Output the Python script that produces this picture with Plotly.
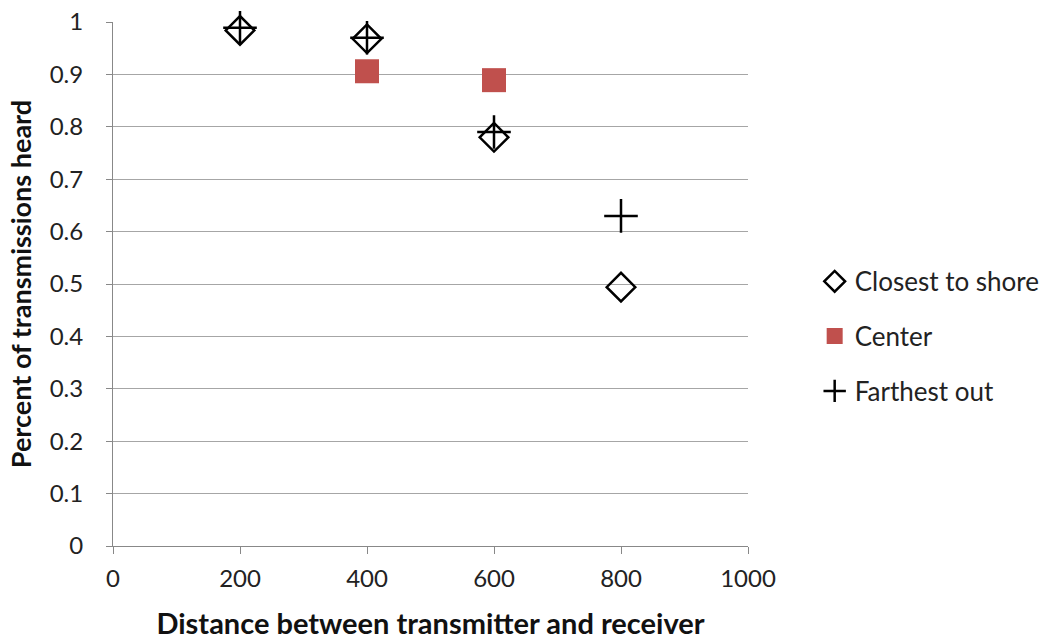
import plotly.graph_objects as go

distances = [200, 400, 600, 800]
closest_to_shore = [0.984, 0.968, 0.780, 0.494]
center_x = [400, 600]
center = [0.906, 0.889]
farthest_out = [0.989, 0.970, 0.790, 0.630]

FONT = "Lato, Liberation Sans, sans-serif"

fig = go.Figure()
fig.add_trace(go.Scatter(
    x=distances, y=closest_to_shore, mode="markers", name="Closest to shore", legendgroup="a",
    cliponaxis=False,
    marker=dict(symbol="diamond-open", size=22, color="black", line=dict(width=2.5, color="black")),
))
fig.add_trace(go.Scatter(
    x=center_x, y=center, mode="markers", name="Center", legendgroup="b",
    cliponaxis=False,
    marker=dict(symbol="square", size=24, color="#c0504d", line=dict(width=0)),
))
fig.add_trace(go.Scatter(
    x=distances, y=farthest_out, mode="markers", name="Farthest out", legendgroup="c",
    cliponaxis=False,
    marker=dict(symbol="cross-thin-open", size=24, color="black", line=dict(width=2.5, color="black")),
))

fig.update_layout(
    width=1044, height=640,
    margin=dict(l=113, r=296, t=22, b=94, autoexpand=False),
    plot_bgcolor="white", paper_bgcolor="white",
    font=dict(family=FONT, size=20, color="#222222"),
    legend=dict(x=1.105, y=0.40, xanchor="left", yanchor="middle",
                font=dict(size=26, color="#222222"), tracegroupgap=18,
                traceorder="grouped"),
    showlegend=True,
)
fig.update_xaxes(
    range=[0, 1000], tickvals=[0, 200, 400, 600, 800, 1000],
    showgrid=False, showline=True, linecolor="#888888", linewidth=1,
    ticks="outside", ticklen=7, tickcolor="#888888",
    tickfont=dict(size=24), ticklabelstandoff=4, automargin=False,
    title=dict(text="<b>Distance between transmitter and receiver</b>", font=dict(size=29, color="#111111"), standoff=24),
    zeroline=False,
)
fig.update_yaxes(
    range=[0, 1], tickvals=[i / 10 for i in range(11)],
    ticktext=["0", "0.1", "0.2", "0.3", "0.4", "0.5", "0.6", "0.7", "0.8", "0.9", "1"],
    showgrid=True, gridcolor="#a6a6a6", gridwidth=1.2,
    showline=True, linecolor="#888888", linewidth=1,
    ticks="outside", ticklen=6, tickcolor="#888888",
    tickfont=dict(size=24), ticklabelstandoff=18, automargin=False,
    title=dict(text="<b>Percent of transmissions heard</b>", font=dict(size=27, color="#111111"), standoff=10),
    zeroline=False,
)

fig.write_html("out.html")
